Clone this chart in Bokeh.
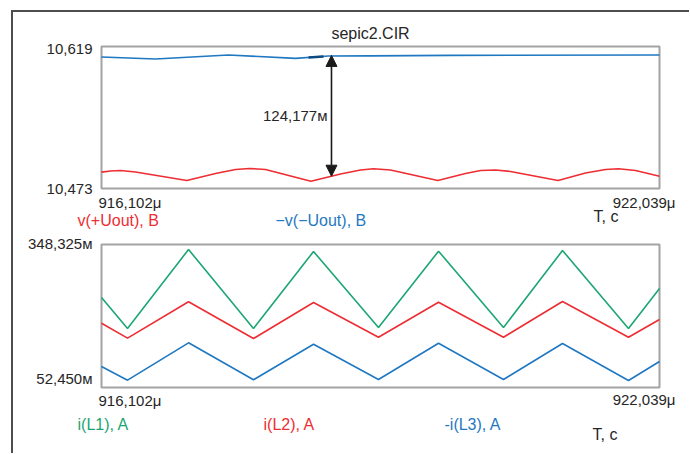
import numpy as np
from bokeh.plotting import figure
from bokeh.layouts import column
from bokeh.models import Range1d, Label, Arrow, NormalHead
from bokeh.embed import file_html
from bokeh.resources import INLINE

# ---------------- data ----------------
t_start, t_end = 916.102, 922.039          # μs
x_tick_labels = ["916,102μ", "922,039μ"]

# upper plot: voltages
v_min, v_max = 10.473, 10.619
v_tick_labels = ["10,473", "10,619"]
t_vpos = [916.102, 916.198, 916.304, 916.464, 917.010, 917.315, 917.528, 917.677,
          917.847, 918.330, 918.645, 918.858, 918.996, 919.177, 919.680, 919.975,
          920.135, 920.294, 920.454, 920.960, 921.252, 921.465, 921.603, 921.784, 922.039]
v_pos = [10.4898, 10.4910, 10.4915, 10.4900, 10.4812, 10.4884, 10.4925, 10.4936,
         10.4925, 10.4805, 10.4879, 10.4920, 10.4933, 10.4920, 10.4812, 10.4884,
         10.4915, 10.4920, 10.4905, 10.4812, 10.4889, 10.4925, 10.4933, 10.4915, 10.4856]
t_vneg = [916.102, 916.677, 917.453, 918.166, 918.517, 918.964, 919.815, 922.039]
v_neg = [10.6082, 10.6061, 10.6102, 10.6068, 10.6092, 10.6094, 10.6099, 10.6102]
cursor_t = [918.305, 918.464]
t_arrow = 918.549
delta_v = 0.124177
delta_label = "124,177м"

# lower plot: currents
i_min, i_max = 0.052450, 0.348325
i_tick_labels = ["52,450м", "348,325м"]
t_cur = [916.102, 916.379, 917.028, 917.719, 918.358, 919.049, 919.688,
         920.379, 921.007, 921.709, 922.039]
i_L1 = [0.2387, 0.1745, 0.3380, 0.1745, 0.3338, 0.1766, 0.3345, 0.1766, 0.3359, 0.1745, 0.2573]
i_L2 = [0.1855, 0.1545, 0.2298, 0.1538, 0.2283, 0.1565, 0.2289, 0.1565, 0.2304, 0.1565, 0.1932]
i_L3 = [0.0959, 0.0676, 0.1449, 0.0684, 0.1420, 0.0690, 0.1441, 0.0690, 0.1435, 0.0669, 0.1063]

title_text = "sepic2.CIR"
upper_legend = ["v(+Uout), B", "\u2212v(\u2212Uout), B"]
lower_legend = ["i(L1), A", "i(L2), A", "-i(L3), A"]
x_axis_name = "T, c"

# ---------------- style / layout (pixels) ----------------
RED = "#ee2d33"
BLUE = "#1f78c1"
GREEN = "#1ba672"
TXT = "#262626"
BOX = "#a3a3a3"
FONT = "Liberation Sans"
FS_NUM = "15px"
FS_TXT = "16px"
W, H = 676, 441                 # canvas; its origin sits at page (13, 12)
OX, OY = 13, 12
BOX_L, BOX_R = 101, 659         # page x of both plot boxes
UP_T, UP_B = 46, 188            # page y of upper box
LO_T, LO_B = 244, 387           # page y of lower box


def span_range(lo, hi, p_lo, p_hi, c0, c1):
    """data range whose canvas [c0, c1] puts lo at pixel p_lo and hi at p_hi"""
    k = (hi - lo) / (p_hi - p_lo)
    return Range1d(lo + (c0 - p_lo) * k, lo + (c1 - p_lo) * k)


xr = span_range(t_start, t_end, BOX_L, BOX_R, OX, OX + W)
# y: page grows downward, so flip
yr_up = span_range(v_min, v_max, -UP_B, -UP_T, -(OY + H), -OY)
yr_lo = span_range(i_min, i_max, -LO_B, -LO_T, -(OY + H), -OY)

p = figure(width=W, height=H, x_range=xr, y_range=yr_up, output_backend="svg",
           toolbar_location=None, x_axis_location=None, y_axis_location=None,
           min_border=0, min_border_left=0, min_border_right=0,
           min_border_top=0, min_border_bottom=0)
p.extra_y_ranges = {"cur": yr_lo}
p.xgrid.visible = False
p.ygrid.visible = False
p.outline_line_color = None
p.background_fill_color = "white"
p.border_fill_color = "white"


def lab(text, fs=FS_NUM, **kw):
    args = dict(text=text, text_font=FONT, text_font_size=fs, text_color=TXT)
    args.update(kw)
    p.add_layout(Label(**args))


def scr(text, X, Y, color=TXT, align="left"):
    lab(text, fs=FS_TXT, x=X - OX, y=OY + H - Y, x_units="screen", y_units="screen",
        text_align=align, text_baseline="middle", text_color=color)


# ---------------- upper plot ----------------
p.quad(left=[t_start], right=[t_end], bottom=[v_min], top=[v_max],
       fill_color=None, line_color=BOX, line_width=2)
p.line(t_vneg, v_neg, line_color=BLUE, line_width=1.6)
p.line(cursor_t, list(np.interp(cursor_t, t_vneg, v_neg)), line_color="#0d4a80", line_width=2.5)
p.line(t_vpos, v_pos, line_color=RED, line_width=1.6)

a_bot = float(np.interp(t_arrow, t_vpos, v_pos))
a_top = a_bot + delta_v
p.add_layout(Arrow(x_start=t_arrow, y_start=a_bot, x_end=t_arrow, y_end=a_top,
                   line_color="#1a1a1a", line_width=1.6,
                   start=NormalHead(size=11, fill_color="#1a1a1a", line_color="#1a1a1a"),
                   end=NormalHead(size=11, fill_color="#1a1a1a", line_color="#1a1a1a")))
lab(delta_label, x=t_arrow, y=(a_bot + a_top) / 2, x_offset=-4,
    text_align="right", text_baseline="middle")

lab(v_tick_labels[1], x=t_start, y=v_max, x_offset=-9, y_offset=-2,
    text_align="right", text_baseline="middle")
lab(v_tick_labels[0], x=t_start, y=v_min, x_offset=-9,
    text_align="right", text_baseline="middle")
lab(x_tick_labels[0], x=t_start, y=v_min, x_offset=-3, y_offset=-14,
    text_align="left", text_baseline="middle")
lab(x_tick_labels[1], x=t_end, y=v_min, x_offset=16, y_offset=-14,
    text_align="right", text_baseline="middle")

scr(title_text, 370, 33, align="center")
scr(upper_legend[0], 77, 220, RED)
scr(upper_legend[1], 275, 220, BLUE)
scr(x_axis_name, 593, 216)

# ---------------- lower plot ----------------
p.quad(left=[t_start], right=[t_end], bottom=[i_min], top=[i_max],
       fill_color=None, line_color=BOX, line_width=2, y_range_name="cur")
p.line(t_cur, i_L1, line_color=GREEN, line_width=1.6, y_range_name="cur")
p.line(t_cur, i_L2, line_color=RED, line_width=1.6, y_range_name="cur")
p.line(t_cur, i_L3, line_color=BLUE, line_width=1.6, y_range_name="cur")

lab(i_tick_labels[1], x=t_start, y=i_max, x_offset=-9, y_offset=1, y_range_name="cur",
    text_align="right", text_baseline="middle")
lab(i_tick_labels[0], x=t_start, y=i_min, x_offset=-9, y_offset=1, y_range_name="cur",
    text_align="right", text_baseline="bottom")
lab(x_tick_labels[0], x=t_start, y=i_min, x_offset=-3, y_offset=-13, y_range_name="cur",
    text_align="left", text_baseline="middle")
lab(x_tick_labels[1], x=t_end, y=i_min, x_offset=16, y_offset=-12, y_range_name="cur",
    text_align="right", text_baseline="middle")

scr(lower_legend[0], 77, 424, GREEN)
scr(lower_legend[1], 263, 424, RED)
scr(lower_legend[2], 444, 424, BLUE)
scr(x_axis_name, 592, 434)

layout = column(p, margin=(10, 0, 0, 11),
                styles={"border-left": "2px solid #4d4d4d",
                        "border-top": "2px solid #4d4d4d"})

open("out.html", "w").write(file_html(layout, INLINE))
